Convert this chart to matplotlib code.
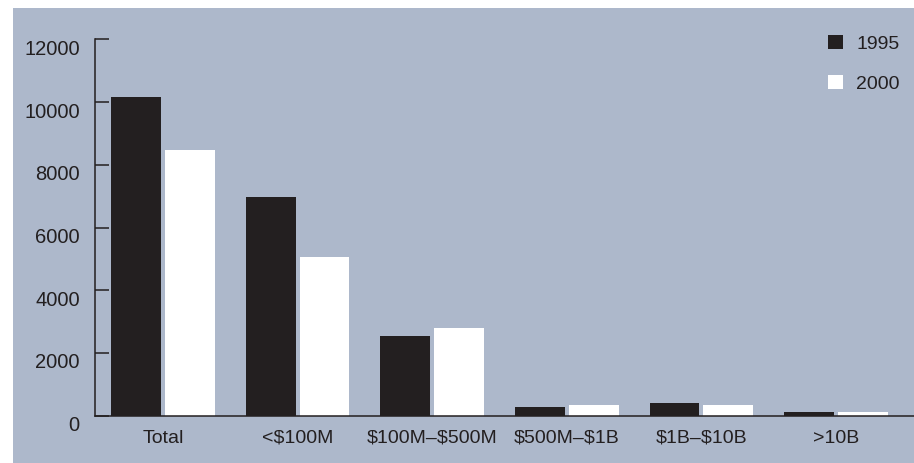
import matplotlib
matplotlib.use('Agg')
import matplotlib.pyplot as plt
import matplotlib.transforms as mtransforms
import numpy as np
from matplotlib.patches import Rectangle

#------------------------Data-----------------------------
categories = ['Total', '<$100M', '$100M\u2013$500M', '$500M\u2013$1B', '$1B\u2013$10B', '>10B']
v1995 = [10150, 6970, 2540, 290, 415, 110]
v2000 = [8470, 5060, 2790, 350, 350, 125]
series_names = ['1995', '2000']
yticks = [0, 2000, 4000, 6000, 8000, 10000, 12000]

bg = '#adb8cb'
dark = '#231f20'
plt.rcParams['font.family'] = ['Liberation Sans', 'DejaVu Sans']
plt.rcParams['text.parse_math'] = False

fig = plt.figure(figsize=(9.14, 4.63), dpi=100, facecolor='white')
# blue-grey panel behind everything
fig.patches.append(Rectangle((13/914, 0), 1, (463-8)/463, transform=fig.transFigure,
                             facecolor=bg, edgecolor='none', zorder=-5))

ax = fig.add_axes([95/914, 47.3/463, (914-95)/914, 376.4/463])
ax.set_facecolor('none')
ax.set_zorder(2)

x = np.arange(len(categories))
w = 0.37
ax.bar(x - 0.2, v1995, w, color=dark, label=series_names[0], zorder=2)
ax.bar(x + 0.2, v2000, w, color='white', label=series_names[1], zorder=2)

ax.set_xlim(-0.505, 5.58)
ax.set_ylim(0, 12000)
ax.set_yticks(yticks)
ax.set_xticks(x)
ax.set_xticklabels(categories)

for s in ['top', 'right']:
    ax.spines[s].set_visible(False)
for s in ['left', 'bottom']:
    ax.spines[s].set_color(dark)
    ax.spines[s].set_linewidth(1.1)
    ax.spines[s].set_zorder(3)

ax.tick_params(axis='y', direction='in', length=10, width=1.1, color=dark,
               labelsize=14.5, labelcolor=dark, pad=11)
ax.tick_params(axis='x', length=0, labelsize=14, labelcolor=dark, pad=10)

# y labels sit a little below their ticks in the original
shift = mtransforms.ScaledTranslation(0, -8/100, fig.dpi_scale_trans)
for lab in ax.get_yticklabels():
    lab.set_transform(lab.get_transform() + shift)

leg = ax.legend(loc='upper left', bbox_to_anchor=(828/914, 1 - 35/463),
                bbox_transform=fig.transFigure, frameon=False, fontsize=14,
                handlelength=0.75, handleheight=0.75, handletextpad=0.7,
                labelspacing=1.12, borderpad=0, borderaxespad=0)
for t in leg.get_texts():
    t.set_color(dark)

plt.savefig('out.png', dpi=100, facecolor='white')
